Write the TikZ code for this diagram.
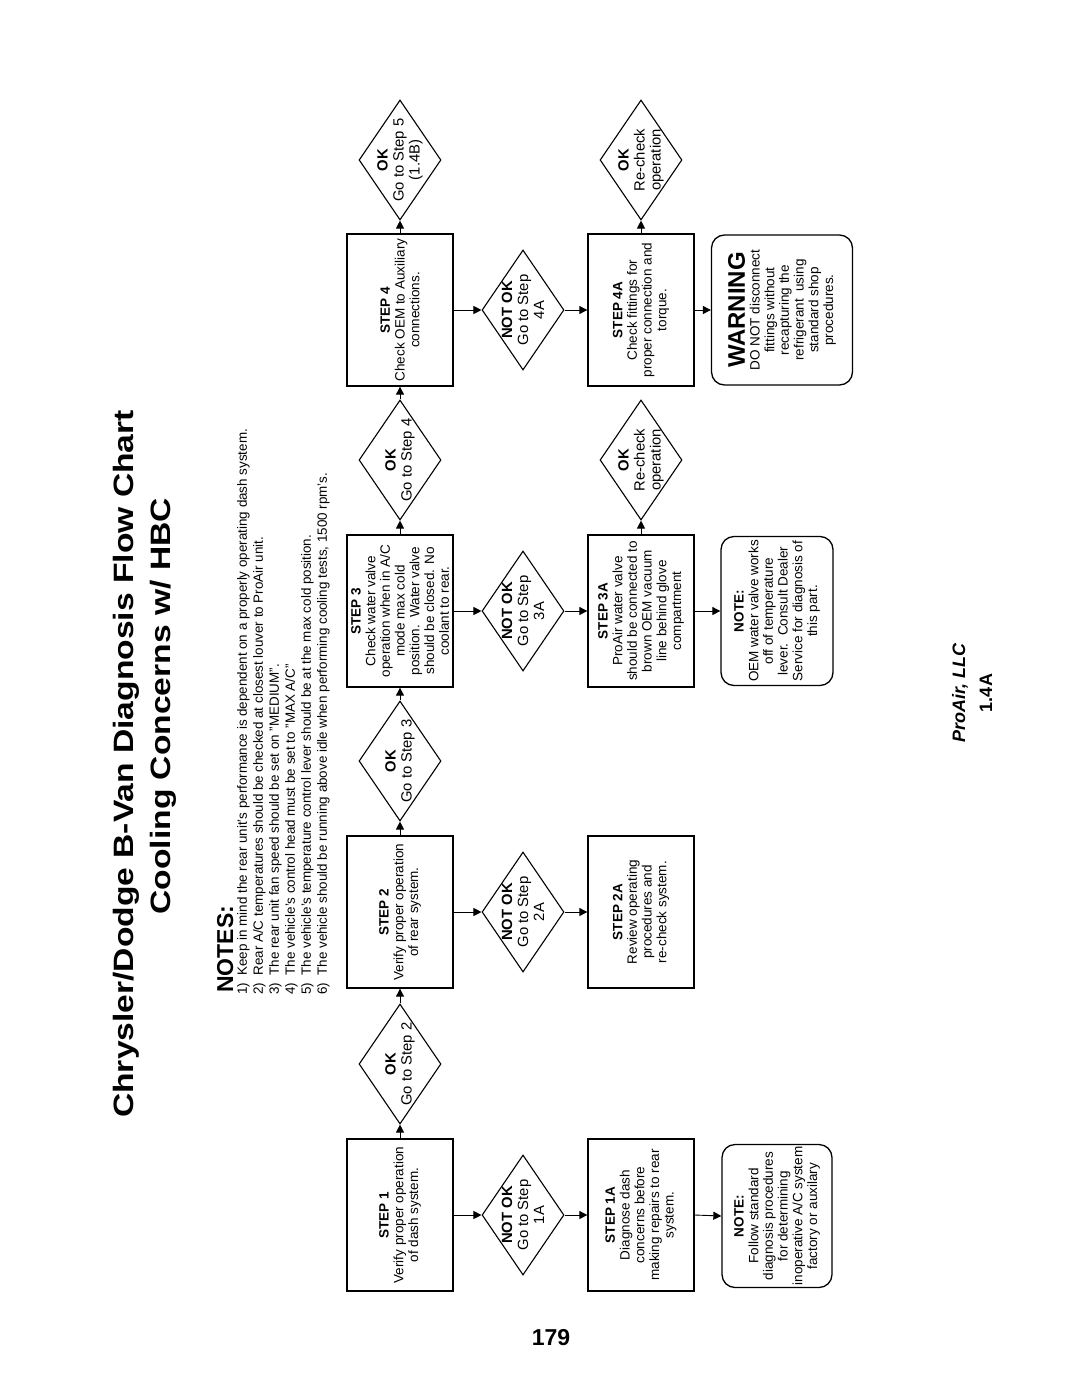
\documentclass[tikz,border=0pt]{standalone}
\usepackage{fontspec}
\setmainfont{Liberation Sans}
\newfontfamily\titlefont[FakeStretch=1.2]{Liberation Sans Bold}
\usetikzlibrary{shapes.geometric,arrows.meta}
\begin{document}
\begin{tikzpicture}[x=1pt,y=-1pt,
  box/.style={draw, line width=1.3pt, rotate=90, inner sep=0pt, align=center,
    minimum width=152pt, minimum height=106pt, font=\fontsize{13.5}{14.7}\selectfont},
  notebox/.style={box, rounded corners=13pt},
  dia/.style={draw, diamond, line width=1.1pt, rotate=90, inner sep=0pt,
    minimum width=120pt, minimum height=82pt},
  dtext/.style={rotate=90, align=center, inner sep=0pt, font=\fontsize{14.8}{16}\selectfont},
  arr/.style={line width=0.9pt, -{Triangle[length=8pt,width=8pt]}},
  vtext/.style={rotate=90, inner sep=0pt}
]
\useasboundingbox (0,0) rectangle (1071,1386);
\fill[white] (0,0) rectangle (1071,1386);

% title
\node[vtext, anchor=east, font=\fontsize{28}{30}\selectfont\titlefont] (t1) at (126,410) {Chrysler/Dodge B-Van Diagnosis Flow Chart};
\node[vtext, anchor=east, font=\fontsize{28}{30}\selectfont\titlefont] (t2) at (163,498) {Cooling Concerns w/ HBC};

% notes
\node[vtext, anchor=base west, font=\fontsize{23}{25}\selectfont\bfseries] (nh) at (233,993) {NOTES:};
\node[vtext, anchor=north west, align=left, font=\fontsize{13.4}{16}\selectfont] (nb) at (237,995) {%
1)\ \ Keep in mind the rear unit's performance is dependent on a properly operating dash system.\\
2)\ \ Rear A/C temperatures should be checked at closest louver to ProAir unit.\\
3)\ \ The rear unit fan speed should be set on "MEDIUM".\\
4)\ \ The vehicle's control head must be set to "MAX A/C"\\
5)\ \ The vehicle's temperature control lever should be at the max cold position.\\
6)\ \ The vehicle should be running above idle when performing cooling tests, 1500 rpm's.};

% main column
\node[box] (s1) at (400,1215) {\textbf{STEP 1}\\Verify proper operation\\of dash system.};
\node[dia] (ok1) at (400,1064) {};
\node[dtext] (ok1t) at (ok1) {\textbf{OK}\\Go to Step 2};
\node[box] (s2) at (400,912) {\textbf{STEP 2}\\Verify proper operation\\of rear system.};
\node[dia] (ok2) at (400,761) {};
\node[dtext] (ok2t) at (ok2) {\textbf{OK}\\Go to Step 3};
\node[box] (s3) at (400,611) {\textbf{STEP 3}\\Check water valve\\operation when in A/C\\mode max cold\\position.\ \ Water valve\\should be closed. No\\coolant to rear.};
\node[dia] (ok3) at (400,460) {};
\node[dtext] (ok3t) at (ok3) {\textbf{OK}\\Go to Step 4};
\node[box] (s4) at (400,310) {\textbf{STEP 4}\\Check OEM to Auxiliary\\connections.};
\node[dia] (ok4) at (400,160) {};
\node[dtext] (ok4t) at (ok4) {\textbf{OK}\\Go to Step 5\\(1.4B)};

% not ok column
\node[dia] (n1) at (523,1215) {};
\node[dtext] (n1t) at (n1) {\textbf{NOT OK}\\Go to Step\\1A};
\node[dia] (n2) at (523,912) {};
\node[dtext] (n2t) at (n2) {\textbf{NOT OK}\\Go to Step\\2A};
\node[dia] (n3) at (523,611) {};
\node[dtext] (n3t) at (n3) {\textbf{NOT OK}\\Go to Step\\3A};
\node[dia] (n4) at (523,310) {};
\node[dtext] (n4t) at (n4) {\textbf{NOT OK}\\Go to Step\\4A};

% A column
\node[box] (a1) at (641,1215) {\textbf{STEP 1A}\\Diagnose dash\\concerns before\\making repairs to rear\\system.};
\node[box] (a2) at (641,912) {\textbf{STEP 2A}\\Review operating\\procedures and\\re-check system.};
\node[box] (a3) at (641,611) {\textbf{STEP 3A}\\ProAir water valve\\should be connected to\\brown OEM vacuum\\line behind glove\\compartment};
\node[dia] (oka3) at (641,460) {};
\node[dtext] (oka3t) at (oka3) {\textbf{OK}\\Re-check\\operation};
\node[box] (a4) at (641,310) {\textbf{STEP 4A}\\Check fittings for\\proper connection and\\torque.};
\node[dia] (oka4) at (641,160) {};
\node[dtext] (oka4t) at (oka4) {\textbf{OK}\\Re-check\\operation};

% notes column
\node[notebox, minimum width=143pt, minimum height=110pt] (note1) at (777,1216) {\textbf{NOTE:}\\Follow standard\\diagnosis procedures\\for determining\\inoperative A/C system\\factory or auxilary};
\node[notebox, minimum width=149pt, minimum height=112pt] (note3) at (777,611) {\textbf{NOTE:}\\OEM water valve works\\off of temperature\\lever.\ \ Consult Dealer\\Service for diagnosis of\\this part.};
\node[notebox, minimum width=150pt, minimum height=141pt] (warn) at (782,310) {{\fontsize{24}{26}\selectfont\bfseries WARNING}\\DO NOT disconnect\\fittings without\\recapturing the\\refrigerant\ \ using\\standard shop\\procedures.};

% connectors
\draw[arr] (s1.east) -- (ok1.west);
\draw[arr] (ok1.east) -- (s2.west);
\draw[arr] (s2.east) -- (ok2.west);
\draw[arr] (ok2.east) -- (s3.west);
\draw[arr] (s3.east) -- (ok3.west);
\draw[arr] (ok3.east) -- (s4.west);
\draw[arr] (s4.east) -- (ok4.west);
\draw[arr] (s1.south) -- (n1.north);
\draw[arr] (s2.south) -- (n2.north);
\draw[arr] (s3.south) -- (n3.north);
\draw[arr] (s4.south) -- (n4.north);
\draw[arr] (n1.south) -- (a1.north);
\draw[arr] (n2.south) -- (a2.north);
\draw[arr] (n3.south) -- (a3.north);
\draw[arr] (n4.south) -- (a4.north);
\draw[arr] (a3.east) -- (oka3.west);
\draw[arr] (a4.east) -- (oka4.west);
\draw[arr] (a1.south) -- (note1.north);
\draw[arr] (a3.south) -- (note3.north);
\draw[arr] (a4.south) -- (warn.north);

% footer
\node[vtext, font=\fontsize{18}{20}\selectfont\bfseries\itshape] (pro) at (960,693) {ProAir, LLC};
\node[vtext, font=\fontsize{18}{20}\selectfont\bfseries] (num) at (986,693) {1.4A};
\node[inner sep=0pt, font=\fontsize{23}{25}\selectfont\bfseries] (pg) at (551,1338) {179};
\end{tikzpicture}
\end{document}
